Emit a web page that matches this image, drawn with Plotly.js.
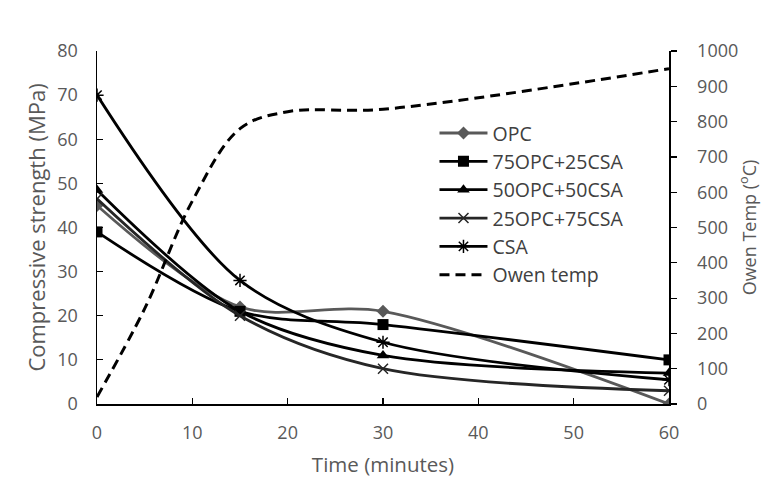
<!DOCTYPE html>
<html>
<head>
<meta charset="utf-8">
<script src="https://cdn.plot.ly/plotly-3.0.1.min.js"></script>
<style>
html,body{margin:0;padding:0;background:#fff;}
#topline{position:absolute;left:5px;top:10px;width:756px;height:0;border-top:1px solid #dcdcdc;}
#chart{width:761px;height:484px;}
</style>
</head>
<body>
<div id="topline"></div>
<div id="chart"></div>
<script>
// Data
var time = [0, 15, 30, 60];
var opc = [45, 22, 21, 0];
var opc75csa25 = [39, 21, 18, 10];
var opc50csa50 = [48.5, 21, 11, 7];
var opc25csa75 = [46.5, 20, 8, 3];
var csa = [70, 28, 14, 5.5];
var tempTime = [0, 5, 10, 15, 20, 30, 60];
var owenTemp = [20, 270, 575, 780, 828, 835, 950];

var names = ['OPC', '75OPC+25CSA', '50OPC+50CSA', '25OPC+75CSA', 'CSA', 'Owen temp'];
var tickFont = {family: 'Open Sans, sans-serif', size: 18, color: '#595959'};

function strengthTrace(name, y, color, symbol, size, mline) {
  return {
    x: time, y: y, name: name, type: 'scatter', mode: 'lines+markers',
    line: {color: color, width: 2.8, shape: 'spline', smoothing: 0.9},
    marker: {symbol: symbol, size: size, color: color, line: {color: color, width: mline}},
    xaxis: 'x', yaxis: 'y'
  };
}

var traces = [
  strengthTrace(names[0], opc, '#595959', 'diamond', 10, 0),
  strengthTrace(names[1], opc75csa25, '#000000', 'square', 11, 0),
  strengthTrace(names[2], opc50csa50, '#000000', 'triangle-up', 11, 0),
  strengthTrace(names[3], opc25csa75, '#262626', 'x-thin-open', 10, 1.5),
  strengthTrace(names[4], csa, '#000000', 'asterisk-open', 11, 1.5),
  {
    x: tempTime, y: owenTemp, name: names[5], type: 'scatter', mode: 'lines',
    line: {color: '#000000', width: 3, dash: '10px,6px', shape: 'spline', smoothing: 1},
    xaxis: 'x', yaxis: 'y2'
  }
];

var layout = {
  width: 761, height: 484,
  margin: {l: 97, r: 92, t: 51, b: 80, pad: 0},
  paper_bgcolor: '#ffffff', plot_bgcolor: '#ffffff',
  showlegend: true,
  legend: {
    x: 0.59, y: 0.822, xanchor: 'left', yanchor: 'top',
    bgcolor: 'rgba(0,0,0,0)', borderwidth: 0,
    font: {family: 'Open Sans, sans-serif', size: 19.5, color: '#404040'},
    itemwidth: 48, tracegroupgap: 0
  },
  xaxis: {
    range: [0, 60], dtick: 10, tick0: 0,
    showgrid: false, zeroline: false,
    showline: true, linecolor: '#000', linewidth: 1.5,
    ticks: 'inside', ticklen: 6, tickwidth: 1.2, tickcolor: '#000',
    tickfont: tickFont, ticklabelstandoff: 12,
    title: {text: 'Time (minutes)', font: {family: 'Open Sans, sans-serif', size: 20.5, color: '#595959'}, standoff: 14}
  },
  yaxis: {
    range: [0, 80], dtick: 10, tick0: 0,
    showgrid: false, zeroline: false,
    showline: true, linecolor: '#000', linewidth: 1.5,
    ticks: 'inside', ticklen: 6, tickwidth: 1.2, tickcolor: '#000',
    tickfont: tickFont, ticklabelstandoff: 14,
    title: {text: 'Compressive strength (MPa)', font: {family: 'Open Sans, sans-serif', size: 22, color: '#595959'}, standoff: 5}
  },
  yaxis2: {
    overlaying: 'y', side: 'right', anchor: 'x',
    range: [0, 1000], dtick: 100, tick0: 0,
    showgrid: false, zeroline: false,
    showline: true, linecolor: '#000', linewidth: 1.5,
    ticks: 'outside', ticklen: 6, tickwidth: 1.2, tickcolor: '#000',
    tickfont: tickFont, ticklabelstandoff: 17,
    title: {text: 'Owen Temp (<sup>o</sup>C)', font: {family: 'Open Sans, sans-serif', size: 18, color: '#595959'}, standoff: 6}
  }
};

Plotly.newPlot('chart', traces, layout, {displayModeBar: false, staticPlot: true});
</script>
</body>
</html>
